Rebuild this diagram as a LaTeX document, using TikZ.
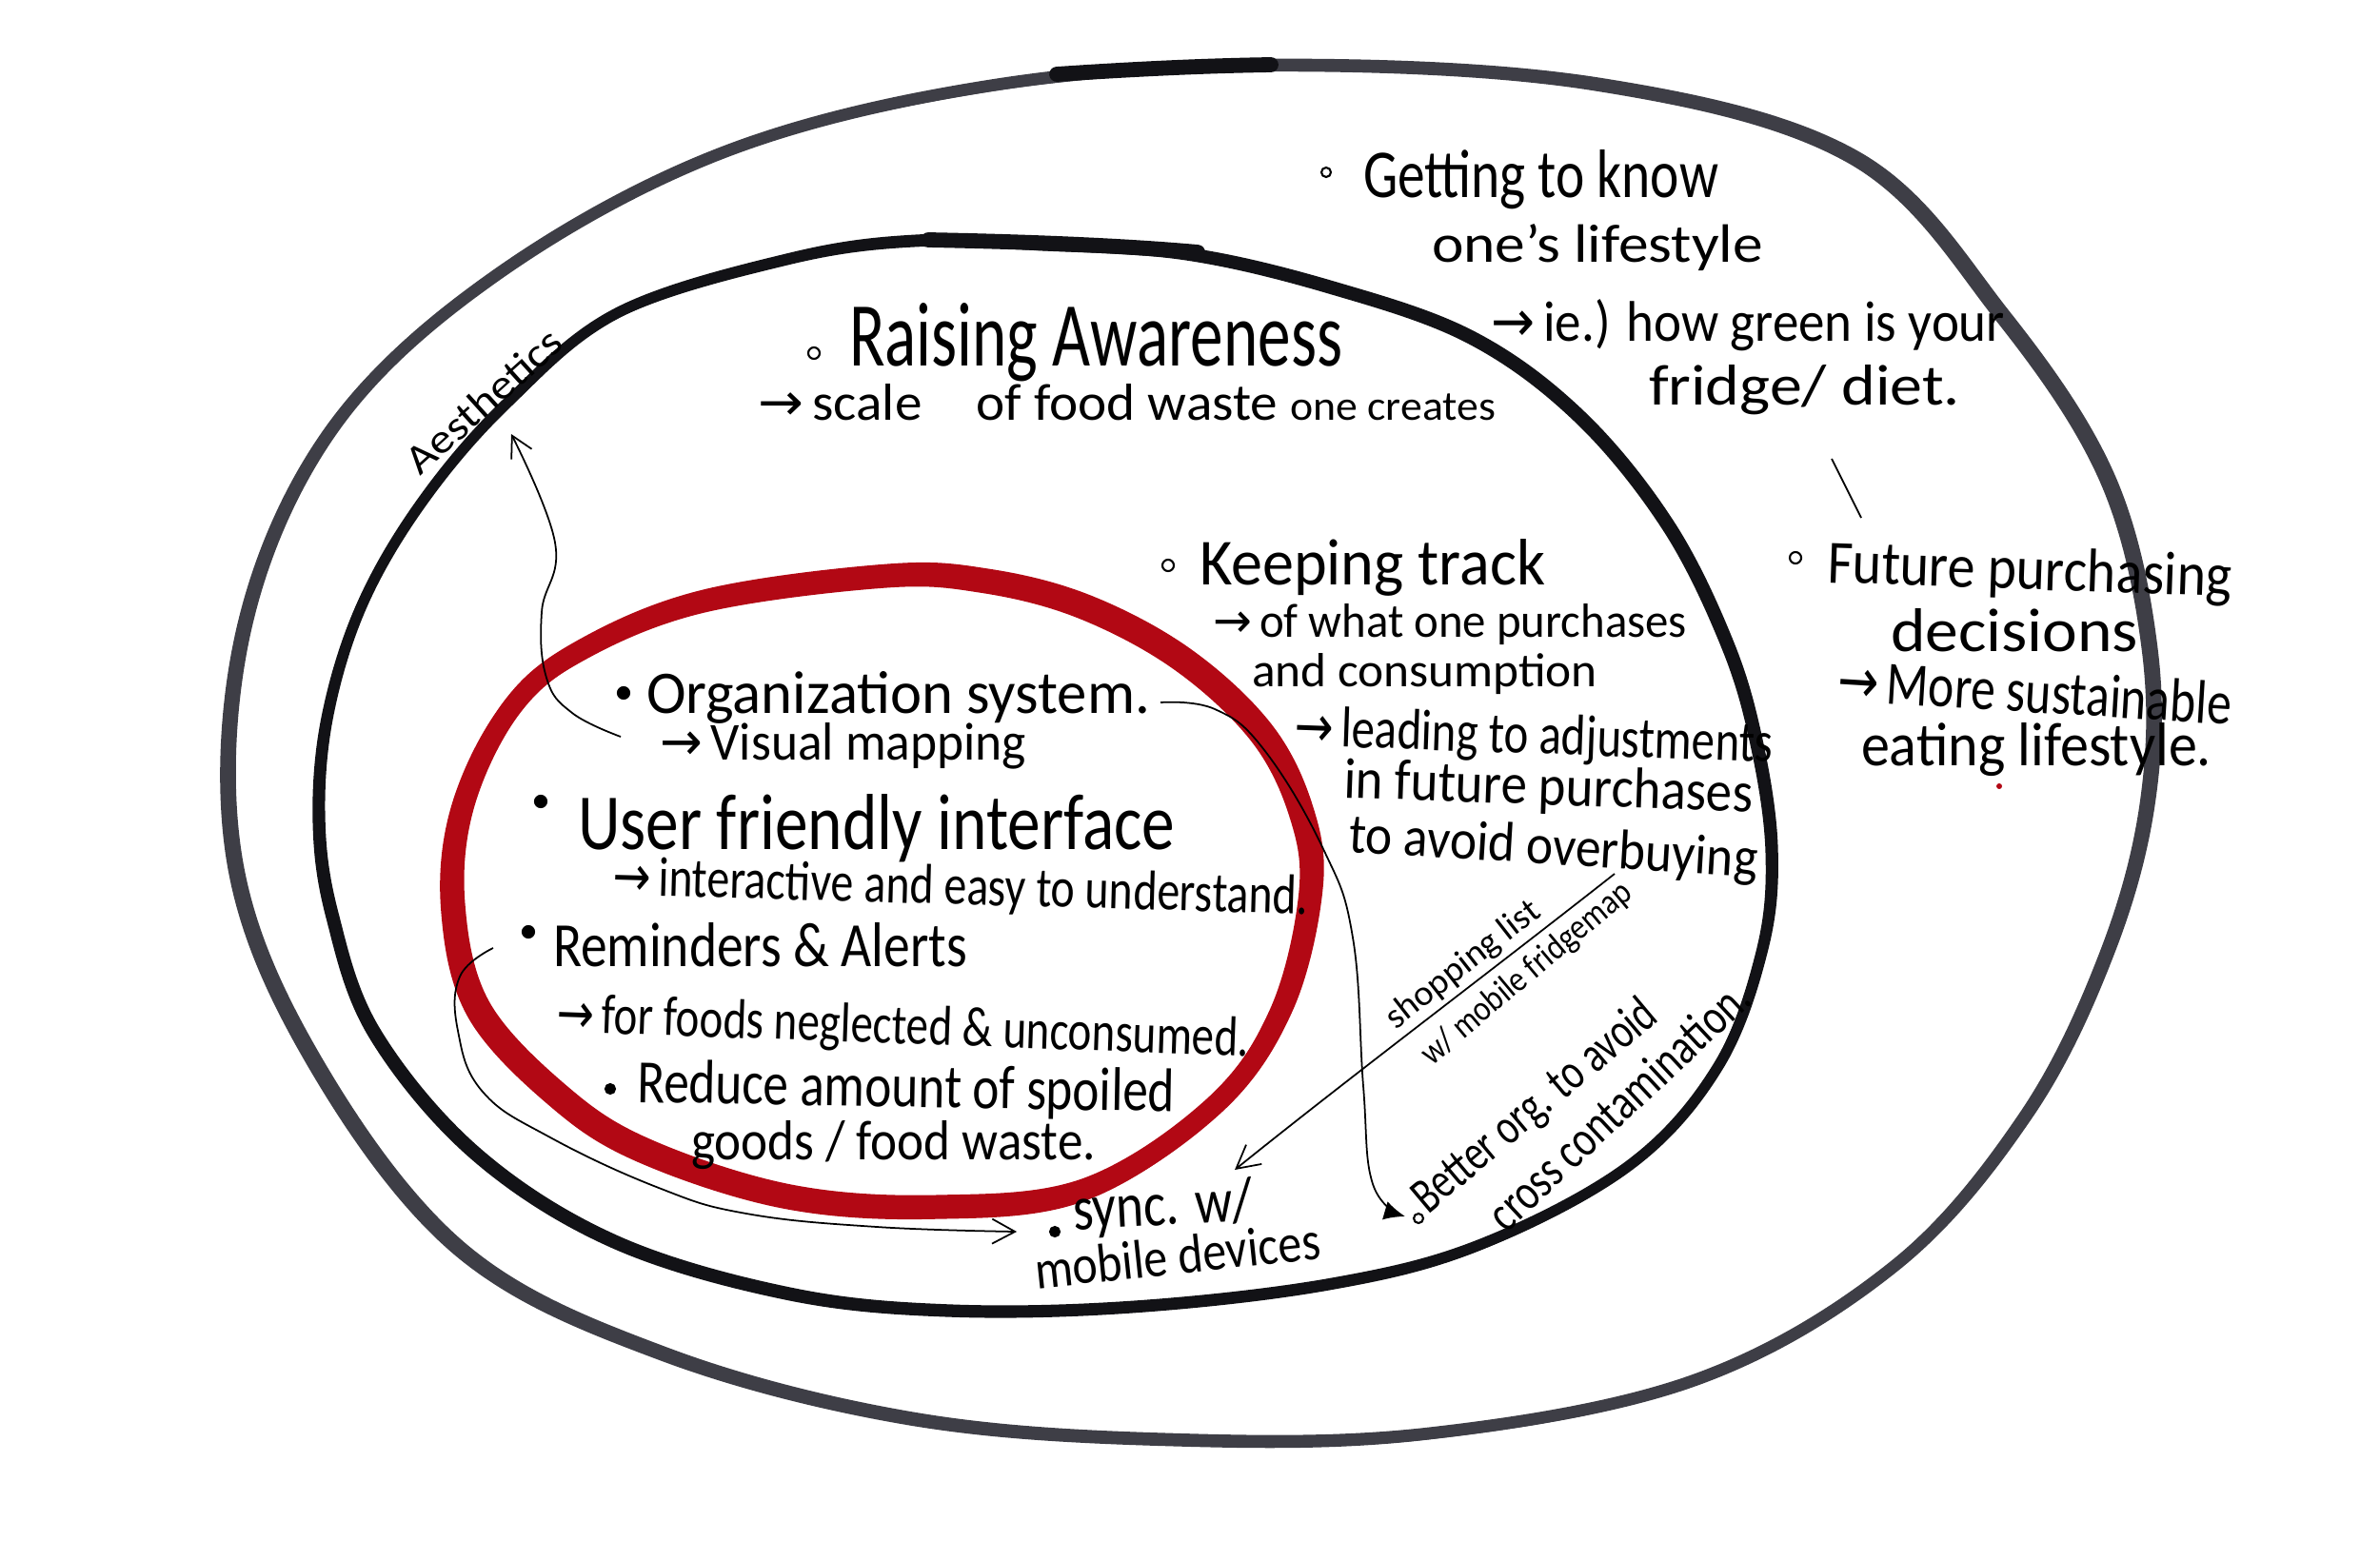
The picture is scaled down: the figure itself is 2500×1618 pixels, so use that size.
\documentclass[tikz,border=0pt]{standalone}
\usepackage{fontspec}
\setmainfont{Carlito}
\newfontfamily\arr{DejaVu Sans}
\usetikzlibrary{arrows.meta}
\definecolor{inkgrey}{RGB}{62,62,70}
\definecolor{inkblack}{RGB}{18,18,22}
\definecolor{marker}{RGB}{178,8,20}
\newlength\pxu
\setlength\pxu{0.01cm}
\newcommand{\hw}[3]{\resizebox{#1\pxu}{#2\pxu}{#3}}
\newcommand{\ar}{{\arr →}\,}
\begin{document}
\begin{tikzpicture}[x=0.01cm,y=-0.01cm,
  txt/.style={inner sep=0pt,outer sep=0pt,anchor=base west,text=black},
  conn/.style={line width=0.5pt,black},
  outerline/.style={draw=inkgrey,line width=3.6pt},
  innerline/.style={draw=inkblack,line width=3.2pt},
  redline/.style={draw=marker,line width=6pt},
  hollow/.style={draw=black,line width=0.6pt},
  solidb/.style={fill=black,draw=black,line width=0.6pt},
]
\fill[white] (0,0) rectangle (2500,1618);
\useasboundingbox (0,0) rectangle (2500,1618);

% outer ring (two passes of the brush)
\draw[outerline] plot[smooth cycle, tension=0.6] coordinates {(1340,68) (1680,88) (1950,165) (2105,330) (2215,500) (2260,680) (2258,840) (2215,1000) (2130,1170) (1990,1330) (1780,1450) (1500,1506) (1230,1512) (960,1490) (700,1422) (486,1312) (330,1110) (248,900) (258,660) (350,450) (520,290) (760,160) (1040,90)};
\draw[outerline,line width=2.4pt,xshift=-0.06cm,yshift=-0.03cm] plot[smooth cycle, tension=0.6] coordinates {(1340,68) (1680,88) (1950,165) (2105,330) (2215,500) (2260,680) (2258,840) (2215,1000) (2130,1170) (1990,1330) (1780,1450) (1500,1506) (1230,1512) (960,1490) (700,1422) (486,1312) (330,1110) (248,900) (258,660) (350,450) (520,290) (760,160) (1040,90)};
\draw[inkblack,line width=4.5pt,line cap=round] (1110,78) .. controls (1200,72) and (1270,69) .. (1335,68);
% inner ring
\draw[innerline] plot[smooth cycle, tension=0.6] coordinates {(964,252) (1100,256) (1250,266) (1400,301) (1546,353) (1660,436) (1753,550) (1815,674) (1846,778) (1862,892) (1852,996) (1805,1120) (1712,1224) (1556,1307) (1400,1348) (1193,1372) (998,1376) (829,1358) (646,1303) (500,1210) (394,1083) (350,960) (336,860) (345,750) (381,634) (445,525) (533,423) (650,328) (831,271)};
\draw[innerline,line width=2pt,xshift=-0.04cm,yshift=-0.04cm] plot[smooth cycle, tension=0.6] coordinates {(964,252) (1100,256) (1250,266) (1400,301) (1546,353) (1660,436) (1753,550) (1815,674) (1846,778) (1862,892) (1852,996) (1805,1120) (1712,1224) (1556,1307) (1400,1348) (1193,1372) (998,1376) (829,1358) (646,1303) (500,1210) (394,1083) (350,960) (336,860) (345,750) (381,634) (445,525) (533,423) (650,328) (831,271)};
\draw[inkblack,line width=4.5pt,line cap=round] (975,252) .. controls (1080,254) and (1180,258) .. (1258,265);
% red ring (two passes of the marker)
\draw[redline] plot[smooth cycle, tension=0.6] coordinates {(933,603) (1037,608) (1141,635) (1244,690) (1327,767) (1369,850) (1379,933) (1348,1058) (1276,1161) (1141,1248) (985,1266) (830,1255) (680,1207) (590,1150) (505,1058) (478,950) (488,845) (537,744) (610,683) (740,630)};
\draw[redline,line width=5pt,xshift=-0.06cm,yshift=-0.06cm] plot[smooth cycle, tension=0.6] coordinates {(933,603) (1037,608) (1141,635) (1244,690) (1327,767) (1369,850) (1379,933) (1348,1058) (1276,1161) (1141,1248) (985,1266) (830,1255) (680,1207) (590,1150) (505,1058) (478,950) (488,845) (537,744) (610,683) (740,630)};

% texts - outer band
\node[txt] (t1) at (1432,207) {\hw{373}{50}{Getting to know}};
\node[txt] (t2) at (1504,275) {\hw{348}{40}{one's lifestyle}};
\node[txt] (t3) at (1566,358) {\hw{540}{44}{\ar ie.) how green is your}};
\node[txt] (t4) at (1732,425) {\hw{327}{42}{fridge/ diet.}};
\node[txt,rotate=-2] (t5) at (1919,612) {\hw{425}{45}{Future purchasing}};
\node[txt] (t6) at (1986,684) {\hw{260}{45}{decisions}};
\node[txt,rotate=-3.5] (t7) at (1929,736) {\hw{415}{45}{\ar More sustainable}};
\node[txt] (t8) at (1955,804) {\hw{368}{45}{eating lifestyle.}};
% middle band
\node[txt] (t9) at (892,384) {\hw{518}{66}{Raising Awareness}};
\node[txt] (t10) at (796,441) {\hw{775}{38}{\ar scale\quad of food waste {\footnotesize one creates}}};
\node[txt,rotate=42,anchor=base] (t11) at (518,432) {\hw{205}{30}{Aesthetics}};
\node[txt] (t12) at (1260,614) {\hw{363}{48}{Keeping track}};
\node[txt] (t13) at (1274,669) {\hw{498}{35}{\ar of what one purchases}};
\node[txt] (t14) at (1315,721) {\hw{363}{35}{and consumption}};
\node[txt,rotate=-2] (t15) at (1359,783) {\hw{503}{42}{\ar leading to adjustments}};
\node[txt,rotate=-2] (t16) at (1411,838) {\hw{430}{42}{in future purchases}};
\node[txt,rotate=-3.5] (t17) at (1416,895) {\hw{430}{41}{to avoid overbuying}};
% red circle
\node[txt] (t18) at (679,749) {\hw{529}{44}{Organization system.}};
\node[txt] (t19) at (693,798) {\hw{385}{39}{\ar Visual mapping}};
\node[txt] (t20) at (607,892) {\hw{627}{58}{User friendly interface}};
\node[txt,rotate=-1.6] (t21) at (643,940) {\hw{731}{41}{\ar interactive and easy to understand.}};
\node[txt] (t22) at (581,1015) {\hw{435}{46}{Reminders \& Alerts}};
\node[txt,rotate=-2] (t23) at (584,1084) {\hw{728}{41}{\ar for foods neglected \& unconsumed.}};
\node[txt,rotate=-1] (t24) at (669,1158) {\hw{565}{45}{Reduce amount of spoiled}};
\node[txt] (t25) at (726,1218) {\hw{425}{41}{goods / food waste.}};
% bottom
\node[txt,rotate=3] (t26) at (1128,1292) {\hw{189}{46}{sync. w/}};
\node[txt,rotate=6] (t27) at (1089,1354) {\hw{301}{40}{mobile devices}};
\node[txt,rotate=38] (t28) at (1466,1082) {\hw{196}{26}{shopping list}};
\node[txt,rotate=40] (t29) at (1504,1120) {\hw{277}{26}{w/ mobile fridgemap}};
\node[txt,rotate=40] (t30) at (1500,1276) {\hw{318}{37}{Better org. to avoid}};
\node[txt,rotate=43] (t31) at (1582,1296) {\hw{356}{37}{cross contamination.}};

% bullets
\draw[hollow] (1393,181) circle (5);
\draw[hollow] (855,371) circle (6);
\draw[hollow] (1227,594) circle (6);
\draw[hollow] (1886,586) circle (6);
\draw[hollow] (1490,1280) circle (5);
\draw[solidb] (655,728) circle (6);
\draw[solidb] (568,842) circle (6);
\draw[solidb] (555,979) circle (6);
\draw[solidb] (641,1144) circle (5);
\draw[solidb] (1108,1294) circle (5);
\fill[marker] (2100,826) circle (3);

% connectors
\coordinate (v1) at (1924,482);
\coordinate (v2) at (1955,544);
\draw[conn] (v1) -- (v2);

\coordinate (a1) at (652,774);
\coordinate (a2) at (537,456);
\draw[conn,-{Straight Barb[length=2.2mm,width=2.4mm]}] plot[smooth,tension=0.7] coordinates {(a1) (601,749) (574,712) (569,643) (583,570) (a2)};

\coordinate (r1) at (518,996);
\coordinate (r2) at (1068,1294);
\draw[conn,-{Straight Barb[length=2.4mm,width=2.6mm]}] plot[smooth,tension=0.7] coordinates {(r1) (483,1026) (481,1083) (507,1147) (578,1195) (692,1248) (784,1275) (921,1289) (r2)};

\coordinate (o1) at (1219,738);
\coordinate (o2) at (1476,1278);
\draw[conn,-{Latex[length=2.2mm,width=2mm]}] plot[smooth,tension=0.7] coordinates {(o1) (1276,745) (1328,788) (1390,892) (1421,985) (1432,1141) (1442,1244) (o2)};

\coordinate (s1) at (1696,918);
\coordinate (s2) at (1297,1229);
\draw[conn,-{Straight Barb[length=2.4mm,width=2.6mm]}] (s1) .. controls (1560,1025) and (1420,1130) .. (s2);
\end{tikzpicture}
\end{document}
